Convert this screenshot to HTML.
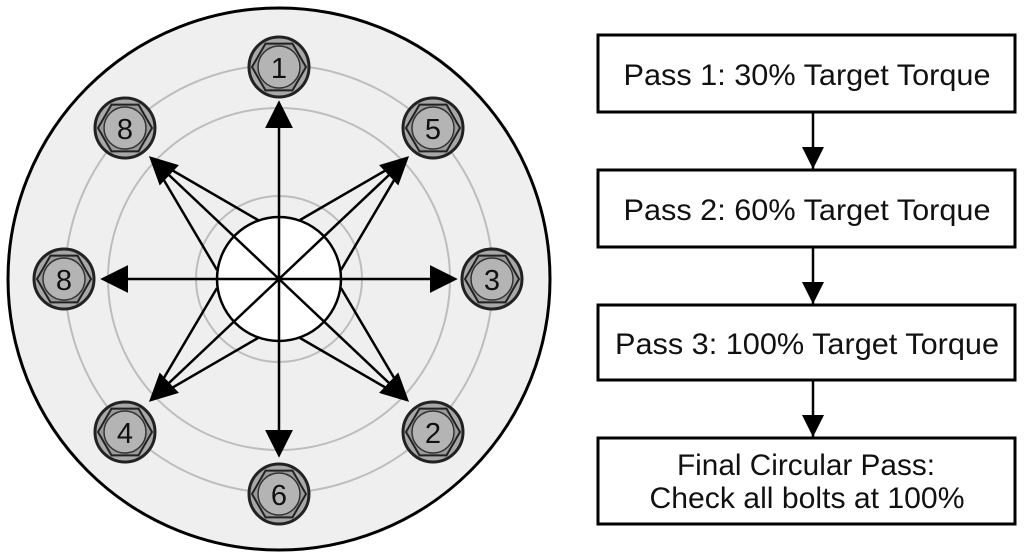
<!DOCTYPE html>
<html><head><meta charset="utf-8"><style>
html,body{margin:0;padding:0;background:#fff;}
svg{display:block;}
text{font-family:"Liberation Sans",sans-serif;}
</style></head><body>
<svg width="1024" height="559" viewBox="0 0 1024 559" xmlns="http://www.w3.org/2000/svg">
<defs>
<marker id="ab" viewBox="0 0 10 10" refX="9" refY="5" markerWidth="28" markerHeight="28" markerUnits="userSpaceOnUse" orient="auto">
<path d="M0,0 L10,5 L0,10 z" fill="#000"/></marker>
<marker id="af" viewBox="0 0 10 10" refX="10" refY="5" markerWidth="22" markerHeight="22" markerUnits="userSpaceOnUse" orient="auto">
<path d="M0,0 L10,5 L0,10 z" fill="#000"/></marker>
<g id="bolt">
<circle r="30" fill="#a8a8a8" stroke="#222" stroke-width="3"/>
<polygon points="27,0 13.5,23.4 -13.5,23.4 -27,0 -13.5,-23.4 13.5,-23.4" fill="#9a9a9a" stroke="#222" stroke-width="2"/>
<circle r="21" fill="#b4b4b4" stroke="#333" stroke-width="1.5"/>
</g>
</defs>
<circle cx="279" cy="279" r="271" fill="#efefef" stroke="#000" stroke-width="3"/>
<g fill="none" stroke="#bdbdbd" stroke-width="2">
<circle cx="279" cy="279" r="83"/>
<circle cx="279" cy="279" r="171"/>
<circle cx="279" cy="279" r="214"/>
</g>
<circle cx="279" cy="279" r="62" fill="#fff" stroke="#000" stroke-width="2.5"/>
<g stroke="#000" stroke-width="2.5" fill="none">
<line x1="279" y1="279" x2="279" y2="103" marker-end="url(#ab)"/>
<line x1="279" y1="279" x2="279" y2="455" marker-end="url(#ab)"/>
<line x1="279" y1="279" x2="455" y2="279" marker-end="url(#ab)"/>
<line x1="279" y1="279" x2="103" y2="279" marker-end="url(#ab)"/>
<line x1="279" y1="279" x2="407" y2="158" marker-end="url(#ab)"/>
<line x1="300" y1="220" x2="400" y2="162"/>
<line x1="341" y1="270" x2="403" y2="165"/>
<line x1="279" y1="279" x2="151" y2="158" marker-end="url(#ab)"/>
<line x1="258" y1="220" x2="158" y2="162"/>
<line x1="217" y1="270" x2="155" y2="165"/>
<line x1="279" y1="279" x2="407" y2="400" marker-end="url(#ab)"/>
<line x1="300" y1="338" x2="400" y2="396"/>
<line x1="341" y1="288" x2="403" y2="393"/>
<line x1="279" y1="279" x2="151" y2="400" marker-end="url(#ab)"/>
<line x1="258" y1="338" x2="158" y2="396"/>
<line x1="217" y1="288" x2="155" y2="393"/>
</g>
<use href="#bolt" x="279" y="67"/>
<use href="#bolt" x="433" y="128"/>
<use href="#bolt" x="492" y="279"/>
<use href="#bolt" x="433" y="432"/>
<use href="#bolt" x="279" y="494"/>
<use href="#bolt" x="125" y="432"/>
<use href="#bolt" x="64" y="279"/>
<use href="#bolt" x="125" y="128"/>
<g font-size="29" text-anchor="middle" fill="#111">
<text x="279" y="78">1</text>
<text x="433" y="139">5</text>
<text x="492" y="290">3</text>
<text x="433" y="443">2</text>
<text x="279" y="505">6</text>
<text x="125" y="443">4</text>
<text x="64" y="290">8</text>
<text x="125" y="139">8</text>
</g>
<g fill="#fff" stroke="#000" stroke-width="3">
<rect x="598" y="35" width="417" height="77"/>
<rect x="598" y="170" width="417" height="77"/>
<rect x="598" y="305" width="417" height="75"/>
<rect x="598" y="438" width="417" height="86"/>
</g>
<g stroke="#000" stroke-width="2.5">
<line x1="813" y1="112" x2="813" y2="169" marker-end="url(#af)"/>
<line x1="813" y1="247" x2="813" y2="304" marker-end="url(#af)"/>
<line x1="813" y1="380" x2="813" y2="437" marker-end="url(#af)"/>
</g>
<g font-size="30" text-anchor="middle" fill="#111">
<text x="807" y="85" textLength="367" lengthAdjust="spacingAndGlyphs">Pass 1: 30% Target Torque</text>
<text x="807" y="220" textLength="367" lengthAdjust="spacingAndGlyphs">Pass 2: 60% Target Torque</text>
<text x="807" y="354" textLength="384" lengthAdjust="spacingAndGlyphs">Pass 3: 100% Target Torque</text>
<text x="806" y="475" textLength="258" lengthAdjust="spacingAndGlyphs">Final Circular Pass:</text>
<text x="807" y="508" textLength="315" lengthAdjust="spacingAndGlyphs">Check all bolts at 100%</text>
</g>
</svg>
</body></html>
